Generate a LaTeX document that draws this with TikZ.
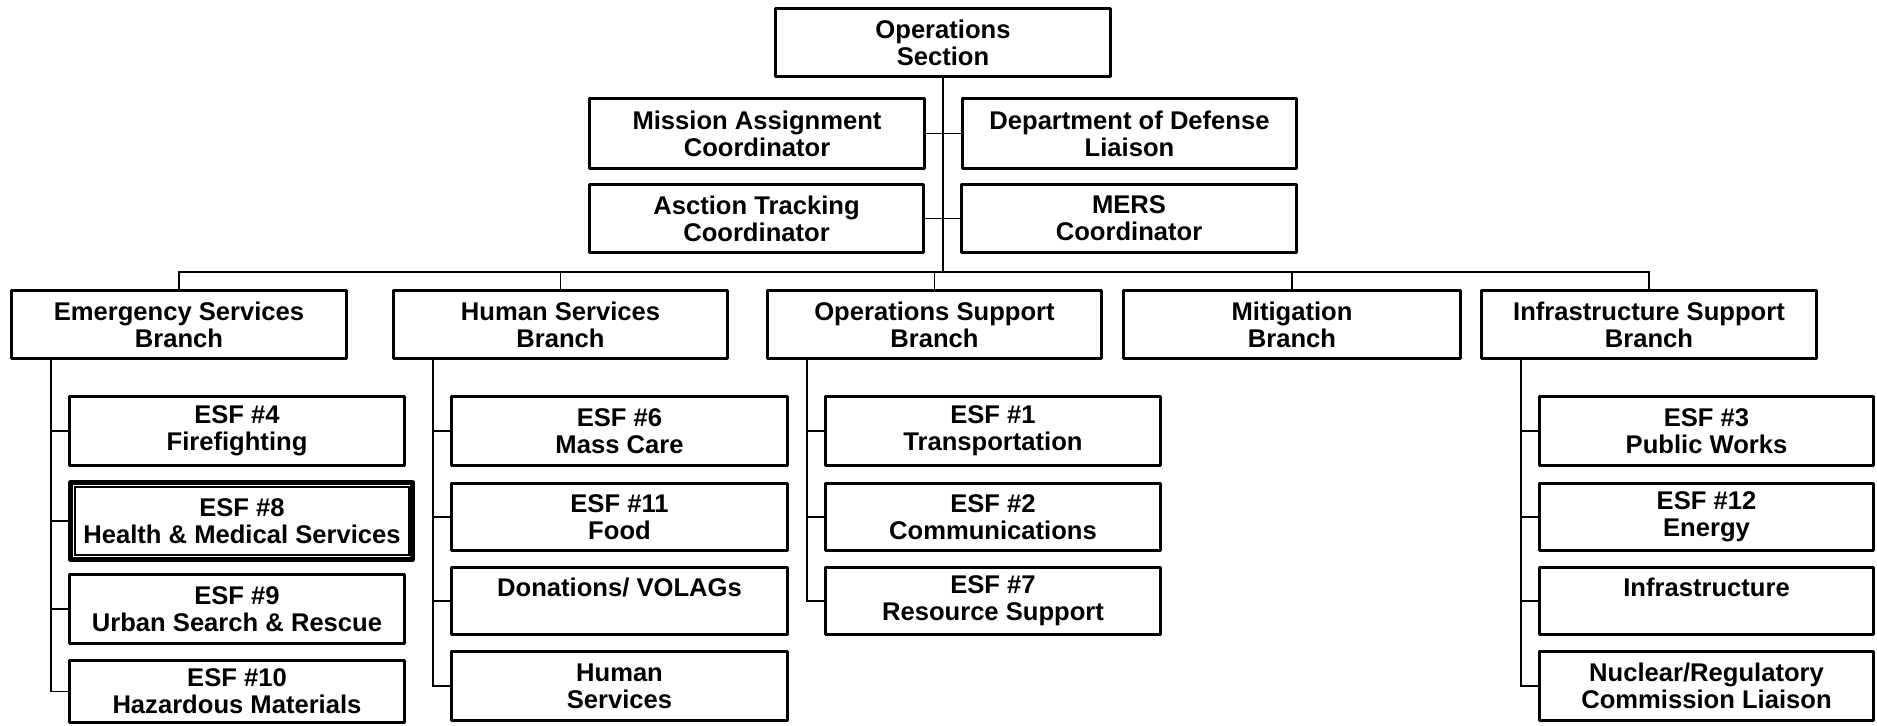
\documentclass[tikz,border=0pt]{standalone}
\usepackage{fontspec}
\setmainfont{Liberation Sans}
\begin{document}
\begin{tikzpicture}[x=0.5pt,y=-0.5pt,
  bw/.style={minimum width={#1*0.5pt-1.65pt}},
  bh/.style={minimum height={#1*0.5pt-1.65pt}},
  lbl/.style={font=\fontsize{12.8}{13.5}\selectfont\bfseries},
  box/.style={draw, line width=1.65pt, line join=round, inner sep=0pt, align=center,
    lbl, bw=338, bh=71},
  conn/.style={line width=0.75pt}]
\useasboundingbox (0,0) rectangle (1877,726);
% top
\node[box] (ops) at (943,42.5) {Operations\\Section};
\node[box,bh=73] (ma) at (757,133.5) {Mission Assignment\\Coordinator};
\node[box,bh=73,bw=337] (dod) at (1129.5,133.5) {Department of Defense\\Liaison};
\node[box,bw=337] (at) at (756.5,218.5) {Asction Tracking\\Coordinator};
\node[box] (mers) at (1129,218.5) {MERS\\Coordinator};
% branches
\node[box] (esb) at (179,324.5) {Emergency Services\\Branch};
\node[box,bw=337] (hsb) at (560.5,324.5) {Human Services\\Branch};
\node[box,bw=337] (osb) at (934.5,324.5) {Operations Support\\Branch};
\node[box,bw=340] (mit) at (1292,324.5) {Mitigation\\Branch};
\node[box] (isb) at (1649,324.5) {Infrastructure Support\\Branch};
% emergency column
\node[box,bh=72] (esf4) at (237,431) {ESF \#4\\Firefighting};
\node[draw, line width=2.5pt, line join=round, inner sep=0pt, minimum width=171pt, minimum height=38.5pt] (esf8) at (241.5,521) {};
\node[draw, line width=0.75pt, inner sep=0pt, align=center, lbl,
  minimum width=167pt, minimum height=34pt] (esf8t) at (242,521) {ESF \#8\\Health \& Medical Services};
\node[box,bh=72] (esf9) at (237,609) {ESF \#9\\Urban Search \& Rescue};
\node[box,bh=65] (esf10) at (237,691.5) {ESF \#10\\Hazardous Materials};
% human column
\node[box,bh=72,bw=339] (esf6) at (619.5,431) {ESF \#6\\Mass Care};
\node[box,bh=70,bw=339] (esf11) at (619.5,517) {ESF \#11\\Food};
\node[box,bh=70,bw=339] (don) at (619.5,601) {Donations/ VOLAGs\\\mbox{}};
\node[box,bh=72,bw=339] (hum) at (619.5,686) {Human\\Services};
% operations support column
\node[box,bh=72] (esf1) at (993,431) {ESF \#1\\Transportation};
\node[box,bh=70] (esf2) at (993,517) {ESF \#2\\Communications};
\node[box,bh=70] (esf7) at (993,601) {ESF \#7\\Resource Support};
% infrastructure column
\node[box,bh=72,bw=337] (esf3) at (1706.5,431) {ESF \#3\\Public Works};
\node[box,bh=70,bw=337] (esf12) at (1706.5,517) {ESF \#12\\Energy};
\node[box,bh=70,bw=337] (infra) at (1706.5,601) {Infrastructure\\\mbox{}};
\node[box,bh=72,bw=337] (nrc) at (1706.5,686) {Nuclear/Regulatory\\Commission Liaison};
% top connectors
\coordinate (bus) at (943,272);
\draw[conn] (ops.south) -- (bus);
\draw[conn] (esb.north) |- (bus) -| (isb.north);
\draw[conn] (hsb.north) -- (hsb.north |- bus);
\draw[conn] (osb.north) -- (osb.north |- bus);
\draw[conn] (mit.north) -- (mit.north |- bus);
\draw[conn] (ma.east) -- (dod.west);
\draw[conn] (at.east) -- (mers.west);
% spines
\coordinate (essp) at (51,359);
\coordinate (hssp) at (433,359);
\coordinate (ossp) at (807,359);
\coordinate (issp) at (1521,359);
\foreach \t in {esf4,esf8,esf9,esf10} \draw[conn] (essp) |- (\t.west);
\foreach \t in {esf6,esf11,don,hum} \draw[conn] (hssp) |- (\t.west);
\foreach \t in {esf1,esf2,esf7} \draw[conn] (ossp) |- (\t.west);
\foreach \t in {esf3,esf12,infra,nrc} \draw[conn] (issp) |- (\t.west);
\end{tikzpicture}
\end{document}
